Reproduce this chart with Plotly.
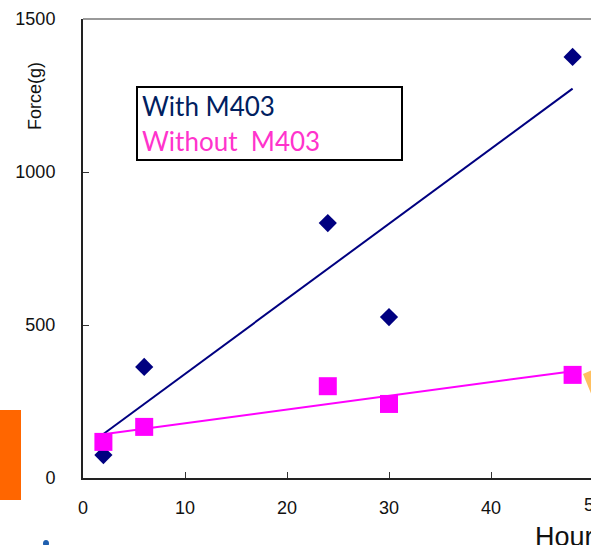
import numpy as np
import plotly.graph_objects as go

hours = [2, 6, 24, 30, 48]
with_m403 = [75, 363, 833, 526, 1376]
without_m403 = [118, 167, 300, 242, 337]

x_ticks = [0, 10, 20, 30, 40]
y_ticks = [0, 500, 1000, 1500]

W, H = 591, 545
L, R, T, B = 83, 0, 19, 67
pw, ph = W - L - R, H - T - B

def px(xp):
    return (xp - L) / pw

def py(yp):
    return (H - B - yp) / ph

NAVY = "#000080"
MAG = "#FF00FF"

fig = go.Figure()

def trend(xs, ys):
    k, b = np.polyfit(xs, ys, 1)
    xe = [min(xs), max(xs)]
    return xe, [k * v + b for v in xe]

tx, ty = trend(hours, with_m403)
fig.add_trace(go.Scatter(x=hours, y=with_m403, mode="markers",
                         marker=dict(symbol="diamond", size=14, color=NAVY),
                         cliponaxis=False, showlegend=False))
fig.add_trace(go.Scatter(x=tx, y=ty, mode="lines", line=dict(color=NAVY, width=2),
                         showlegend=False))
fig.add_trace(go.Scatter(x=hours, y=without_m403, mode="markers",
                         marker=dict(symbol="square", size=18, color=MAG),
                         cliponaxis=False, showlegend=False))
tx2, ty2 = trend(hours, without_m403)
fig.add_trace(go.Scatter(x=tx2, y=ty2, mode="lines", line=dict(color=MAG, width=2),
                         showlegend=False))

fig.update_xaxes(range=[0, pw / 10.2], tickvals=x_ticks, ticktext=[str(v) for v in x_ticks],
                 ticks="inside", ticklen=6, tickwidth=1, tickcolor="#333",
                 showline=True, linecolor="#222", linewidth=2, mirror=False,
                 showgrid=False, zeroline=False,
                 tickfont=dict(family="Liberation Sans", size=18, color="#111"),
                 ticklabelstandoff=12)
fig.update_yaxes(range=[0, 1500], tickvals=y_ticks, ticktext=[str(v) for v in y_ticks],
                 ticks="inside", ticklen=6, tickwidth=1, tickcolor="#333",
                 showline=True, linecolor="#222", linewidth=2,
                 showgrid=False, zeroline=False,
                 tickfont=dict(family="Liberation Sans", size=18, color="#111"),
                 ticklabelstandoff=22)

shapes = [
    dict(type="line", xref="paper", yref="paper", x0=0, x1=1, y0=1, y1=1,
         line=dict(color="#999999", width=2)),
    dict(type="rect", xref="paper", yref="paper", x0=px(0), x1=px(21), y0=py(500), y1=py(410),
         fillcolor="#FF6600", line=dict(width=0)),
    dict(type="path", xref="paper", yref="paper",
         path=f"M {px(583)},{py(374)} L {px(592)},{py(370)} L {px(592)},{py(396)} Z",
         fillcolor="#FFC060", line=dict(width=0)),
    dict(type="circle", xref="paper", yref="paper", x0=px(43), x1=px(49), y0=py(547), y1=py(540),
         fillcolor="#1F5FAF", line=dict(width=0)),
    dict(type="rect", xref="paper", yref="paper", x0=px(137), x1=px(402), y0=py(160), y1=py(87),
         fillcolor="white", line=dict(color="black", width=2), layer="above"),
]

annotations = [
    dict(text="With M403", xref="paper", yref="paper", x=px(140), y=py(106),
         xanchor="left", yanchor="middle", showarrow=False,
         font=dict(family="Lato", size=26, color="#002060")),
    dict(text="Without  M403", xref="paper", yref="paper", x=px(140), y=py(141),
         xanchor="left", yanchor="middle", showarrow=False,
         font=dict(family="Lato", size=26, color="#FF33CC")),
    dict(text="Force(g)", xref="paper", yref="paper", x=px(35), y=py(96),
         xanchor="center", yanchor="middle", showarrow=False, textangle=-90,
         font=dict(family="Liberation Sans", size=18, color="#111")),
    dict(text="50", xref="paper", yref="paper", x=px(594), y=py(505),
         xanchor="center", yanchor="middle", showarrow=False,
         font=dict(family="Liberation Sans", size=18, color="#111")),
    dict(text="Hours", xref="paper", yref="paper", x=px(533), y=py(537),
         xanchor="left", yanchor="middle", showarrow=False,
         font=dict(family="Liberation Sans", size=27, color="#111")),
]

fig.update_layout(width=W, height=H, margin=dict(l=L, r=R, t=T, b=B, pad=0),
                  paper_bgcolor="white", plot_bgcolor="white",
                  shapes=shapes, annotations=annotations, showlegend=False)

fig.write_html("out.html", config={"displayModeBar": False},
               post_script="document.body.style.margin='0';document.body.style.overflow='hidden';")
